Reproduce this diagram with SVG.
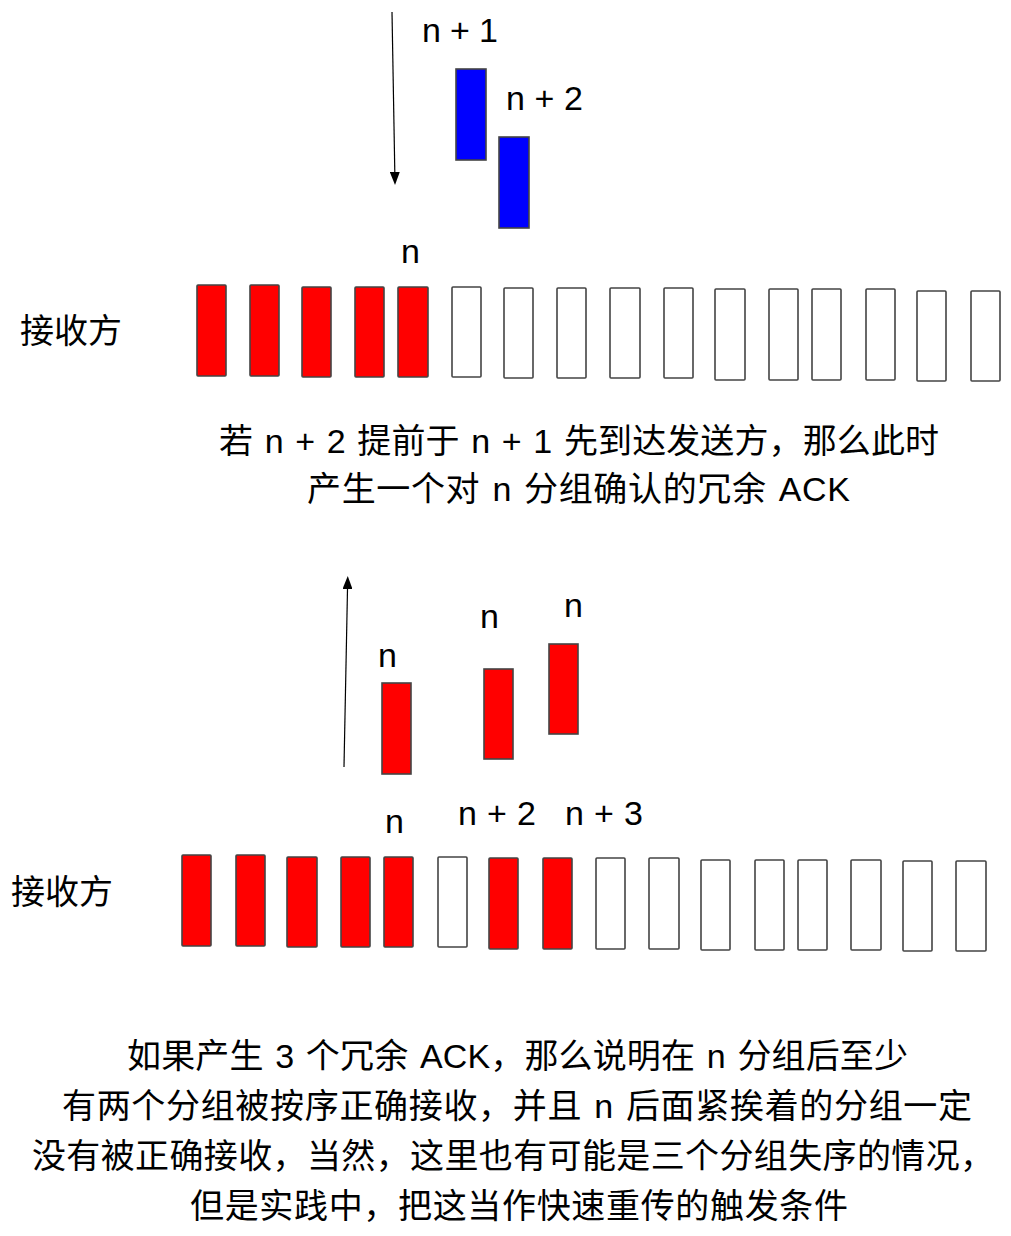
<svg xmlns="http://www.w3.org/2000/svg" width="1011" height="1236" viewBox="0 0 1011 1236">
<style>
.box{stroke:#444;stroke-width:1.6}
.red{fill:#ff0000}
.blue{fill:#0000ff}
.empty{fill:#ffffff}
.lbl{font-family:"Liberation Sans",Arial,sans-serif;font-size:34px;fill:#000}
.cap{font-family:"Liberation Sans","Noto Sans CJK SC",sans-serif;font-size:34px;fill:#000;word-spacing:2px}
.conn{stroke:#000;stroke-width:1.2;fill:none}
</style>
<defs>
<marker id="ah" viewBox="0 0 13 10" markerWidth="13" markerHeight="10" refX="0" refY="5" orient="auto" markerUnits="userSpaceOnUse">
<path d="M0,0 L13,5 L0,10 z" fill="#000"/>
</marker>
</defs>
<rect width="1011" height="1236" fill="#fff"/>

<g id="connectors">
<line class="conn" x1="392" y1="12" x2="394.8" y2="172" marker-end="url(#ah)"/>
<line class="conn" x1="344" y1="767" x2="347.5" y2="589" marker-end="url(#ah)"/>
</g>

<g id="top-receiver">
<text class="cap" x="20" y="343">接收方</text>
<g id="top-row">
<rect class="box red" x="197" y="285" width="29" height="91" rx="1"/>
<rect class="box red" x="250" y="285" width="29" height="91" rx="1"/>
<rect class="box red" x="302" y="287" width="29" height="90" rx="1"/>
<rect class="box red" x="355" y="287" width="29" height="90" rx="1"/>
<rect class="box red" x="398" y="287" width="30" height="90" rx="1"/>
<rect class="box empty" x="452" y="287" width="29" height="90" rx="1"/>
<rect class="box empty" x="504" y="288" width="29" height="90" rx="1"/>
<rect class="box empty" x="557" y="288" width="29" height="90" rx="1"/>
<rect class="box empty" x="610" y="288" width="30" height="90" rx="1"/>
<rect class="box empty" x="664" y="288" width="29" height="90" rx="1"/>
<rect class="box empty" x="715" y="289" width="30" height="91" rx="1"/>
<rect class="box empty" x="769" y="289" width="29" height="91" rx="1"/>
<rect class="box empty" x="812" y="289" width="29" height="91" rx="1"/>
<rect class="box empty" x="866" y="289" width="29" height="91" rx="1"/>
<rect class="box empty" x="917" y="291" width="29" height="90" rx="1"/>
<rect class="box empty" x="971" y="291" width="29" height="90" rx="1"/>
</g>
<text class="lbl" x="401" y="263">n</text>
</g>

<g id="top-incoming">
<rect class="box blue" x="456" y="69" width="30" height="91"/>
<rect class="box blue" x="499" y="137" width="30" height="91"/>
<text class="lbl" x="422" y="42" textLength="76">n + 1</text>
<text class="lbl" x="506" y="110" textLength="77">n + 2</text>
</g>

<g id="top-caption">
<text class="cap" x="219" y="453" textLength="720">若 n + 2 提前于 n + 1 先到达发送方，那么此时</text>
<text class="cap" x="307" y="501" textLength="543">产生一个对 n 分组确认的冗余 ACK</text>
</g>

<g id="bottom-acks">
<rect class="box red" x="382" y="683" width="29" height="91"/>
<rect class="box red" x="484" y="669" width="29" height="90"/>
<rect class="box red" x="549" y="644" width="29" height="90"/>
<text class="lbl" x="378" y="667">n</text>
<text class="lbl" x="480" y="628">n</text>
<text class="lbl" x="564" y="617">n</text>
</g>

<g id="bottom-receiver">
<text class="cap" x="11" y="904">接收方</text>
<g id="bottom-row">
<rect class="box red" x="182" y="855" width="29" height="91" rx="1"/>
<rect class="box red" x="236" y="855" width="29" height="91" rx="1"/>
<rect class="box red" x="287" y="857" width="30" height="90" rx="1"/>
<rect class="box red" x="341" y="857" width="29" height="90" rx="1"/>
<rect class="box red" x="384" y="857" width="29" height="90" rx="1"/>
<rect class="box empty" x="438" y="857" width="29" height="90" rx="1"/>
<rect class="box red" x="489" y="858" width="29" height="91" rx="1"/>
<rect class="box red" x="543" y="858" width="29" height="91" rx="1"/>
<rect class="box empty" x="596" y="858" width="29" height="91" rx="1"/>
<rect class="box empty" x="649" y="858" width="30" height="91" rx="1"/>
<rect class="box empty" x="701" y="860" width="29" height="90" rx="1"/>
<rect class="box empty" x="755" y="860" width="29" height="90" rx="1"/>
<rect class="box empty" x="798" y="860" width="29" height="90" rx="1"/>
<rect class="box empty" x="851" y="860" width="30" height="90" rx="1"/>
<rect class="box empty" x="903" y="861" width="29" height="90" rx="1"/>
<rect class="box empty" x="956" y="861" width="30" height="90" rx="1"/>
</g>
<text class="lbl" x="385" y="833">n</text>
<text class="lbl" x="458" y="825" textLength="78">n + 2</text>
<text class="lbl" x="565" y="825" textLength="78">n + 3</text>
</g>

<g id="bottom-caption">
<text class="cap" x="127" y="1068" textLength="781">如果产生 3 个冗余 ACK，那么说明在 n 分组后至少</text>
<text class="cap" x="62" y="1118" textLength="910">有两个分组被按序正确接收，并且 n 后面紧挨着的分组一定</text>
<text class="cap" x="32" y="1168" textLength="962">没有被正确接收，当然，这里也有可能是三个分组失序的情况，</text>
<text class="cap" x="190" y="1218" textLength="658">但是实践中，把这当作快速重传的触发条件</text>
</g>
</svg>
